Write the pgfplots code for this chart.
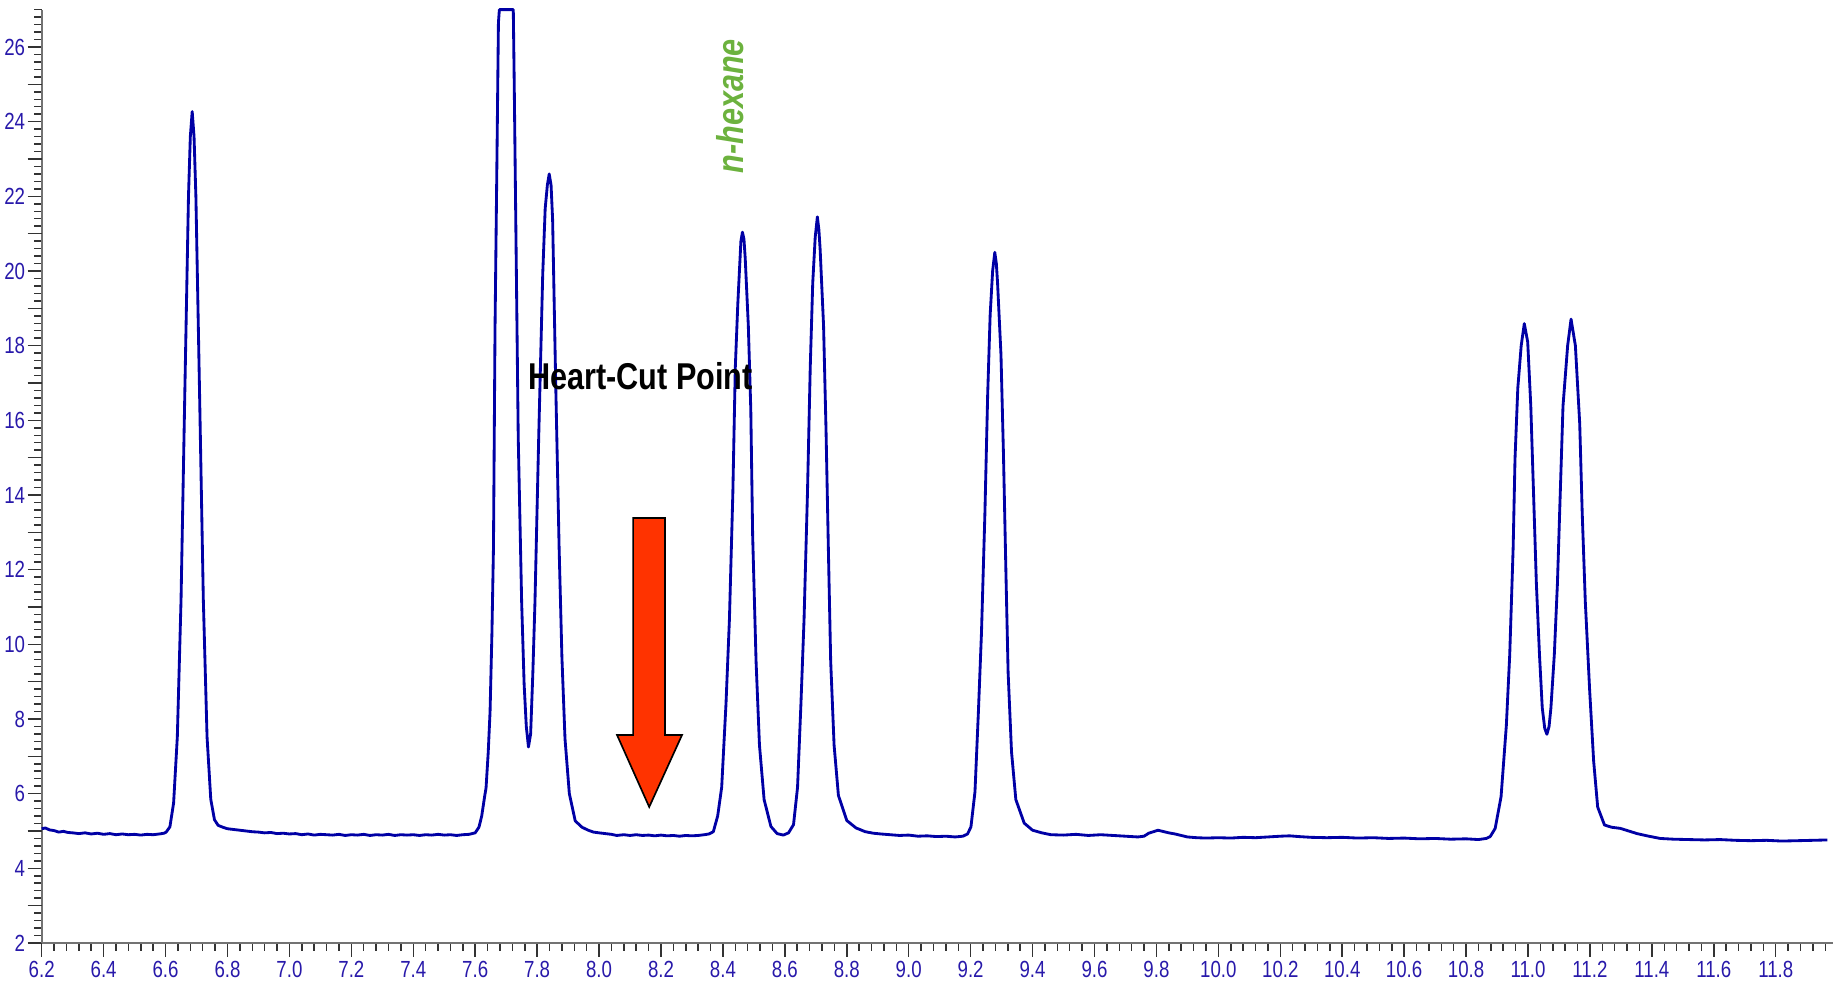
\documentclass[border=0pt]{standalone}
\usepackage{fontspec}
\usepackage{pgfplots}
\pgfplotsset{compat=1.18}
\newfontfamily\narrowsans[FakeStretch=0.8]{Liberation Sans}
\newfontfamily\narrowbold[FakeStretch=0.82]{Liberation Sans}
\definecolor{tickblue}{RGB}{40,25,170}
\definecolor{curveblue}{RGB}{0,0,165}
\definecolor{hexgreen}{RGB}{108,178,62}
\definecolor{arrowred}{RGB}{255,51,0}
\pgfplotstableread{
x y
6.200 5.06
6.212 5.08
6.225 5.03
6.240 5.01
6.255 4.97
6.270 4.99
6.285 4.96
6.300 4.95
6.320 4.93
6.340 4.95
6.360 4.92
6.380 4.94
6.400 4.91
6.420 4.93
6.440 4.90
6.460 4.92
6.480 4.90
6.500 4.91
6.520 4.89
6.540 4.91
6.560 4.90
6.580 4.92
6.595 4.94
6.602 4.97
6.614 5.11
6.626 5.75
6.638 7.52
6.650 11.19
6.662 16.65
6.674 21.99
6.680 23.60
6.686 24.27
6.692 23.60
6.698 21.99
6.710 16.65
6.722 11.19
6.734 7.52
6.746 5.85
6.758 5.30
6.770 5.15
6.785 5.10
6.800 5.06
6.820 5.04
6.840 5.02
6.860 5.00
6.880 4.98
6.900 4.97
6.920 4.95
6.940 4.96
6.960 4.93
6.980 4.94
7.000 4.92
7.020 4.93
7.040 4.90
7.060 4.92
7.080 4.89
7.100 4.91
7.120 4.90
7.140 4.89
7.160 4.91
7.180 4.88
7.200 4.90
7.220 4.89
7.240 4.91
7.260 4.88
7.280 4.90
7.300 4.89
7.320 4.91
7.340 4.88
7.360 4.90
7.380 4.89
7.400 4.90
7.420 4.88
7.440 4.90
7.460 4.89
7.480 4.91
7.500 4.89
7.520 4.90
7.540 4.88
7.560 4.90
7.580 4.91
7.600 4.95
7.612 5.10
7.621 5.40
7.630 5.90
7.635 6.15
7.642 7.10
7.648 8.20
7.654 10.30
7.659 12.60
7.664 18.45
7.670 22.84
7.675 26.65
7.678 27.00
7.723 27.00
7.726 25.04
7.731 21.38
7.739 15.52
7.750 11.13
7.758 8.93
7.765 7.80
7.772 7.25
7.779 7.60
7.786 9.20
7.793 11.13
7.805 15.52
7.818 19.90
7.826 21.67
7.833 22.30
7.839 22.60
7.845 22.30
7.850 21.38
7.860 16.98
7.871 12.58
7.880 9.66
7.890 7.47
7.904 6.00
7.923 5.27
7.945 5.10
7.965 5.02
7.982 4.97
8.000 4.95
8.020 4.93
8.040 4.91
8.057 4.88
8.080 4.90
8.100 4.88
8.120 4.90
8.140 4.88
8.160 4.89
8.180 4.87
8.200 4.89
8.220 4.87
8.240 4.88
8.260 4.86
8.280 4.88
8.300 4.87
8.320 4.88
8.340 4.90
8.355 4.92
8.369 4.98
8.383 5.40
8.396 6.17
8.410 8.42
8.421 10.67
8.432 14.04
8.440 17.42
8.448 19.11
8.458 20.79
8.463 21.04
8.468 20.85
8.472 20.34
8.482 18.54
8.490 16.29
8.496 12.92
8.507 9.55
8.518 7.30
8.533 5.84
8.555 5.12
8.575 4.93
8.595 4.89
8.612 4.95
8.628 5.17
8.641 6.17
8.652 8.42
8.662 10.67
8.673 14.04
8.682 17.42
8.690 19.67
8.698 20.90
8.705 21.45
8.710 21.10
8.714 20.57
8.725 18.54
8.733 15.73
8.741 12.36
8.748 9.55
8.759 7.30
8.773 5.95
8.800 5.28
8.830 5.08
8.860 4.98
8.886 4.94
8.910 4.92
8.940 4.90
8.970 4.88
9.000 4.89
9.030 4.86
9.060 4.87
9.090 4.85
9.120 4.86
9.150 4.84
9.175 4.86
9.190 4.92
9.201 5.11
9.214 6.05
9.225 8.18
9.235 10.31
9.246 13.49
9.255 16.69
9.263 18.82
9.271 20.00
9.278 20.50
9.283 20.20
9.287 19.67
9.298 17.75
9.306 15.09
9.314 11.90
9.321 9.25
9.332 7.12
9.346 5.84
9.373 5.21
9.400 5.02
9.430 4.95
9.459 4.90
9.500 4.89
9.540 4.91
9.580 4.88
9.620 4.90
9.660 4.88
9.700 4.86
9.740 4.84
9.760 4.86
9.775 4.94
9.790 4.98
9.805 5.02
9.820 4.99
9.840 4.95
9.860 4.92
9.880 4.88
9.900 4.84
9.930 4.82
9.960 4.81
10.000 4.82
10.040 4.81
10.080 4.83
10.120 4.82
10.160 4.84
10.200 4.86
10.230 4.87
10.260 4.85
10.300 4.83
10.350 4.82
10.400 4.83
10.450 4.81
10.500 4.82
10.550 4.80
10.600 4.81
10.650 4.79
10.700 4.80
10.750 4.78
10.800 4.79
10.840 4.77
10.865 4.80
10.878 4.85
10.894 5.07
10.913 5.92
10.930 7.82
10.941 9.73
10.952 12.58
10.958 14.96
10.967 16.86
10.978 18.00
10.988 18.59
10.999 18.10
11.009 16.38
11.018 14.01
11.027 11.63
11.037 9.73
11.046 8.30
11.054 7.75
11.061 7.59
11.068 7.80
11.074 8.30
11.085 9.73
11.095 11.63
11.104 14.01
11.113 16.38
11.128 18.00
11.139 18.71
11.153 18.00
11.167 15.91
11.175 13.53
11.185 11.15
11.199 8.78
11.212 6.87
11.225 5.64
11.247 5.16
11.270 5.10
11.298 5.07
11.325 5.00
11.352 4.93
11.390 4.86
11.427 4.80
11.470 4.78
11.520 4.77
11.570 4.76
11.620 4.77
11.670 4.75
11.720 4.74
11.770 4.75
11.820 4.73
11.870 4.74
11.920 4.75
11.967 4.76
}\chrom
\begin{document}
\begin{tikzpicture}
\begin{axis}[
  scale only axis,
  width=537.4pt, height=280pt,
  xmin=6.2, xmax=11.985, ymin=2, ymax=27,
  axis x line*=bottom, axis y line*=left,
  axis line style={draw=black!55, line width=0.6pt, -},
  tick align=outside,
  tick style={black!80, line width=0.45pt},
  major tick length=4.2pt,
  minor tick length=2.3pt,
  xtick={6.2,6.4,6.6,6.8,7.0,7.2,7.4,7.6,7.8,8.0,8.2,8.4,8.6,8.8,9.0,9.2,9.4,9.6,9.8,10.0,10.2,10.4,10.6,10.8,11.0,11.2,11.4,11.6,11.8},
  xticklabels={6.2,6.4,6.6,6.8,7.0,7.2,7.4,7.6,7.8,8.0,8.2,8.4,8.6,8.8,9.0,9.2,9.4,9.6,9.8,10.0,10.2,10.4,10.6,10.8,11.0,11.2,11.4,11.6,11.8},
  minor xtick={6.2,6.24,...,11.98},
  ytick={2,4,6,8,10,12,14,16,18,20,22,24,26},
  yticklabels={2,4,6,8,10,12,14,16,18,20,22,24,26},
  extra y ticks={3,5,7,9,11,13,15,17,19,21,23,25},
  extra y tick labels={},
  minor ytick={2,2.2,...,27},
  xticklabel style={font=\narrowsans\fontsize{7}{7.5}\selectfont, text=tickblue, inner sep=1pt},
  yticklabel style={font=\narrowsans\fontsize{7}{7.5}\selectfont, text=tickblue, inner sep=0.6pt},
  clip=false,
]
\addplot[curveblue, line width=0.85pt, line join=round, mark=none] table[x=x,y=y] {\chrom};
\draw[fill=arrowred, draw=black, line width=0.5pt, line join=miter]
  (axis cs:8.110,13.385) -- (axis cs:8.213,13.385) -- (axis cs:8.213,7.572) --
  (axis cs:8.268,7.572) -- (axis cs:8.162,5.643) -- (axis cs:8.058,7.572) --
  (axis cs:8.110,7.572) -- cycle;
\node[font=\narrowbold\bfseries\fontsize{11.2}{13}\selectfont, text=black, inner sep=0pt]
  at (axis cs:8.134,17.18) {Heart-Cut Point};
\node[rotate=90, font=\narrowbold\bfseries\itshape\fontsize{11.2}{13}\selectfont, text=hexgreen, inner sep=0pt]
  at (axis cs:8.423,24.41) {n-hexane};
\end{axis}
\pgfresetboundingbox
\path[use as bounding box] ([xshift=-12.51pt, yshift=-11.4pt]current axis.south west) rectangle ([xshift=1.8pt, yshift=2.9pt]current axis.north east);
\end{tikzpicture}
\end{document}
